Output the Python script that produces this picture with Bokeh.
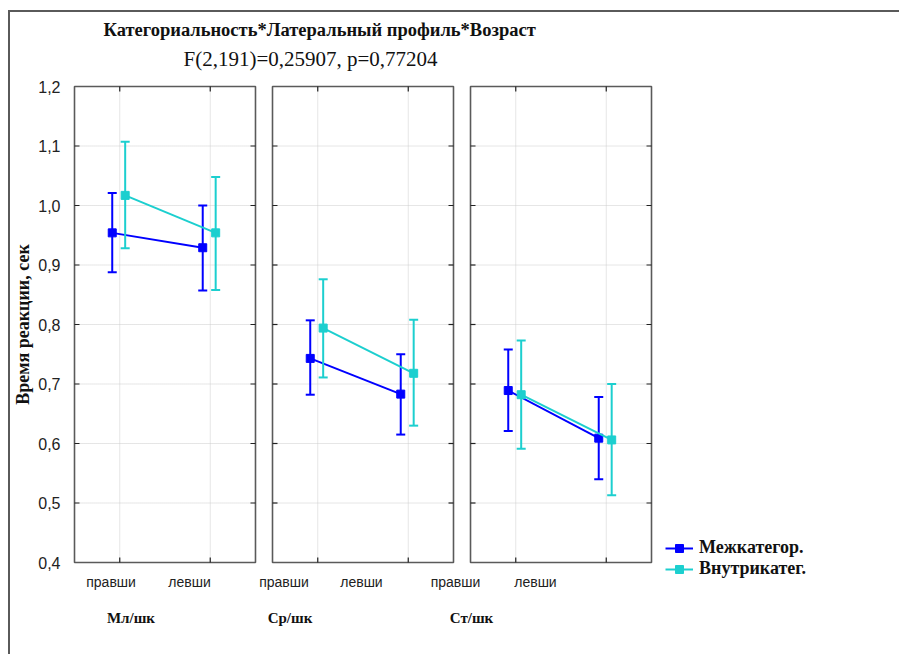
from bokeh.plotting import figure
from bokeh.models import (Range1d, LinearAxis, FixedTicker, CustomJSTickFormatter,
                          Title, Legend, LegendItem)
from bokeh.embed import file_html
from bokeh.resources import INLINE

# ---------------- data ----------------
groups = ["Мл/шк", "Ср/шк", "Ст/шк"]
sides = ["правши", "левши"]
series_names = ["Межкатегор.", "Внутрикатег."]

# order: (Мл правши, Мл левши, Ср правши, Ср левши, Ст правши, Ст левши)
inter_mean = [0.954, 0.929, 0.743, 0.683, 0.689, 0.609]
inter_upper = [1.021, 1.000, 0.807, 0.750, 0.758, 0.678]
inter_lower = [0.888, 0.857, 0.682, 0.615, 0.621, 0.540]

intra_mean = [1.017, 0.954, 0.794, 0.718, 0.682, 0.606]
intra_upper = [1.107, 1.048, 0.876, 0.808, 0.773, 0.700]
intra_lower = [0.928, 0.858, 0.711, 0.630, 0.591, 0.513]

y_ticks = [0.4, 0.5, 0.6, 0.7, 0.8, 0.9, 1.0, 1.1, 1.2]

title_1 = "Категориальность*Латеральный профиль*Возраст"
title_2 = "F(2,191)=0,25907, p=0,77204"
y_label = "Время реакции, сек"

# ---------------- layout / style ----------------
PX = 90.5            # pixels per x unit
PY = 595.0           # pixels per y unit
PANEL_W = 2.0
PANEL_STEP = 2.188
SERIES_OFF = [-0.083, 0.06]
LABEL_POS = [0.404, 1.271, 2.315, 3.171, 4.210, 5.094]   # positions of side labels
GROUP_POS = [0.624, 2.381, 4.387]                        # positions of group labels
COLORS = ["#0000FF", "#1CCFCF"]
FRAME_C = "#5a5a5a"
Y0, Y1 = y_ticks[0], y_ticks[-1]
EX = 2.0 / PX
EY = 2.0 / PY
X_END = 2 * PANEL_STEP + PANEL_W + EX

CW, CH = 888, 642
FW = int(round((X_END + EX) * PX))
FH = 480
MB_L, MB_T = 56, 72
p = figure(frame_width=FW, frame_height=FH, output_backend="svg", toolbar_location=None,
           x_range=Range1d(-EX, X_END),
           y_range=Range1d(Y0 - EY, Y1 + EY),
           min_border_left=MB_L, min_border_right=CW - MB_L - FW,
           min_border_top=MB_T, min_border_bottom=CH - MB_T - FH,
           outline_line_color=None, background_fill_color="white", border_fill_color="white")
p.styles = {"position": "relative", "left": "8px", "top": "10px",
            "border-top": "2px solid #5a5a5a", "border-left": "2px solid #5a5a5a"}
p.xgrid.visible = False
p.ygrid.visible = False

# y axis
ya = p.yaxis[0]
ya.ticker = FixedTicker(ticks=y_ticks)
ya.formatter = CustomJSTickFormatter(code="return tick.toFixed(1).replace('.', ',');")
ya.axis_line_color = None
ya.major_tick_line_color = None
ya.minor_tick_line_color = None
ya.major_label_standoff = 6
ya.major_label_text_font = "Liberation Sans"
ya.major_label_text_font_size = "16px"
ya.major_label_text_color = "#222222"
ya.axis_label = y_label
ya.axis_label_text_font = "Liberation Serif"
ya.axis_label_text_font_style = "bold"
ya.axis_label_text_font_size = "18px"
ya.axis_label_text_color = "#111111"
ya.axis_label_standoff = 2

# x axis with side labels
xa = p.xaxis[0]
xa.ticker = FixedTicker(ticks=LABEL_POS)
xa.formatter = CustomJSTickFormatter(args=dict(labels=sides * len(groups)),
                                     code="return labels[index];")
xa.axis_line_color = None
xa.major_tick_line_color = None
xa.minor_tick_line_color = None
xa.major_label_standoff = 3
xa.major_label_text_font = "Liberation Sans"
xa.major_label_text_font_size = "14px"
xa.major_label_text_color = "#222222"

# x axis with group labels
ga = LinearAxis(ticker=FixedTicker(ticks=GROUP_POS),
                formatter=CustomJSTickFormatter(args=dict(labels=groups),
                                                code="return labels[index];"))
ga.axis_line_color = None
ga.major_tick_line_color = None
ga.minor_tick_line_color = None
ga.major_label_standoff = 11
ga.major_label_text_font = "Liberation Serif"
ga.major_label_text_font_style = "bold"
ga.major_label_text_font_size = "15px"
ga.major_label_text_color = "#111111"
p.add_layout(ga, "below")

# titles (spacer first, then the nearest line, then the outer one)
p.add_layout(Title(text=" ", text_font_size="1px", standoff=6), "above")
p.add_layout(Title(text=title_2, align="left", offset=111, standoff=9,
                   text_font="Liberation Serif", text_font_style="normal",
                   text_font_size="21px", text_color="#111111"), "above")
p.add_layout(Title(text=title_1, align="left", offset=31, standoff=2,
                   text_font="Liberation Serif", text_font_style="bold",
                   text_font_size="18.5px", text_color="#111111"), "above")

# panels: grid, borders, inner ticks
cat_x = []
for g in range(len(groups)):
    left = g * PANEL_STEP
    right = left + PANEL_W
    cx = [left + 0.5 + s for s in range(len(sides))]
    cat_x += cx
    inner = y_ticks[1:-1]
    p.segment(x0=[left] * len(inner), x1=[right] * len(inner), y0=inner, y1=inner,
              line_color="#cccccc", line_width=1, line_dash="1 1")
    p.segment(x0=cx, x1=cx, y0=[Y0] * 2, y1=[Y1] * 2,
              line_color="#cccccc", line_width=1, line_dash="1 1")
    p.quad(left=[left], right=[right], bottom=[Y0], top=[Y1],
           fill_color=None, line_color=FRAME_C, line_width=1.6)
    dx = 5.0 / PX
    dy = 5.0 / PY
    p.segment(x0=[left] * len(inner), x1=[left + dx] * len(inner), y0=inner, y1=inner,
              line_color="#222222", line_width=1.2)
    p.segment(x0=[right - dx] * len(inner), x1=[right] * len(inner), y0=inner, y1=inner,
              line_color="#222222", line_width=1.2)
    p.segment(x0=cx, x1=cx, y0=[Y0] * 2, y1=[Y0 + dy] * 2, line_color="#222222", line_width=1.2)
    p.segment(x0=cx, x1=cx, y0=[Y1] * 2, y1=[Y1 - dy] * 2, line_color="#222222", line_width=1.2)

# series
legend_items = []
for si, (mean, up, lo) in enumerate([(inter_mean, inter_upper, inter_lower),
                                     (intra_mean, intra_upper, intra_lower)]):
    xs = [c + SERIES_OFF[si] for c in cat_x]
    col = COLORS[si]
    ml = p.multi_line(xs=[xs[2 * g:2 * g + 2] for g in range(len(groups))],
                      ys=[mean[2 * g:2 * g + 2] for g in range(len(groups))],
                      line_color=col, line_width=2)
    p.segment(x0=xs, x1=xs, y0=lo, y1=up, line_color=col, line_width=2)
    p.scatter(x=xs, y=up, marker="dash", size=9, line_color=col, line_width=2)
    p.scatter(x=xs, y=lo, marker="dash", size=9, line_color=col, line_width=2)
    sq = p.scatter(x=xs, y=mean, marker="square", size=8, fill_color=col, line_color=col)
    legend_items.append(LegendItem(label=series_names[si], renderers=[ml, sq]))

legend = Legend(items=legend_items, location=(12, -15), orientation="vertical",
                glyph_width=28, glyph_height=20, label_height=20, label_standoff=6,
                spacing=0, padding=0, margin=0, border_line_color=None,
                background_fill_alpha=0,
                label_text_font="Liberation Serif", label_text_font_style="bold",
                label_text_font_size="18px", label_text_color="#111111")
p.add_layout(legend, "right")

open("out.html", "w").write(file_html(p, INLINE))
